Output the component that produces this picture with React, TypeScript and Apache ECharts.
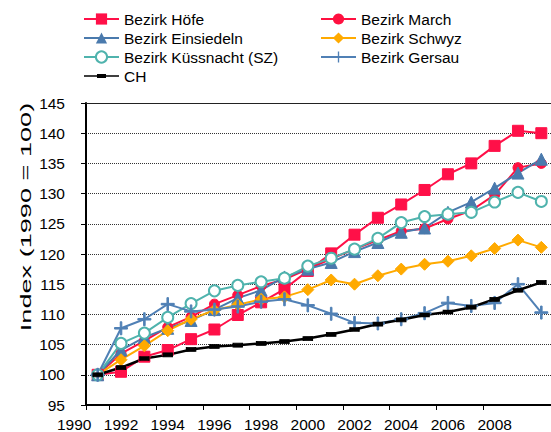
import React, { useEffect, useRef } from "react";
import * as echarts from "echarts";

const years = ["1991","1992","1993","1994","1995","1996","1997","1998","1999","2000","2001","2002","2003","2004","2005","2006","2007","2008","2009","2010"];
const firstTickLabel = "1990";
const yAxisTitle = "Index (1990 = 100)";

const hoefe = [100, 100.5, 103.0, 104.1, 105.9, 107.5, 109.9, 112.0, 114.2, 117.2, 120.1, 123.2, 126.0, 128.2, 130.6, 133.2, 135.0, 137.9, 140.4, 140.0];
const march = [100, 103.5, 105.6, 107.9, 109.6, 111.7, 113.2, 114.7, 115.8, 117.5, 119.2, 120.8, 122.3, 123.8, 124.2, 125.8, 127.2, 129.8, 134.3, 135.0];
const einsiedeln = [100, 104.1, 106.2, 107.7, 109.0, 110.8, 112.7, 114.0, 116.2, 117.5, 118.6, 120.4, 121.9, 123.6, 124.3, 126.9, 128.6, 130.9, 133.4, 135.7];
const schwyz = [100, 102.5, 104.8, 107.3, 109.2, 110.7, 111.6, 112.5, 112.9, 114.1, 115.7, 115.0, 116.4, 117.5, 118.3, 118.8, 119.7, 120.9, 122.3, 121.1];
const kuessnacht = [100, 105.2, 106.9, 109.5, 111.8, 113.9, 114.8, 115.4, 116.0, 118.0, 119.3, 120.8, 122.6, 125.2, 126.2, 126.6, 126.9, 128.6, 130.2, 128.7];
const gersau = [100, 107.7, 109.2, 111.7, 110.5, 110.8, 111.3, 112.1, 112.5, 111.5, 110.1, 108.6, 108.5, 109.2, 110.2, 111.9, 111.4, 111.9, 115.0, 110.3];
const ch = [100, 101.2, 102.7, 103.3, 104.2, 104.7, 104.9, 105.2, 105.5, 106.0, 106.7, 107.5, 108.4, 109.1, 109.9, 110.4, 111.2, 112.5, 114.0, 115.3];

const FONT = "'Liberation Sans', Arial, sans-serif";
const crossPath = "path://M4.4,0H5.6V4.4H10V5.6H5.6V10H4.4V5.6H0V4.4H4.4Z";
const chLegendIcon = "path://M0,1.2H35V2.8H0Z M13,0H22V4H13Z";

export default function App() {
  const ref = useRef<HTMLDivElement>(null);
  useEffect(() => {
    if (!ref.current) return;
    const chart = echarts.init(ref.current, undefined, { renderer: "svg" });
    const mk = (name: string, data: number[], color: string, symbol: string, symbolSize: any, width = 2, extra: any = {}) => ({
      name,
      type: "line",
      data,
      symbol,
      symbolSize,
      lineStyle: { color, width },
      itemStyle: { color, borderColor: color, ...(extra.itemStyle || {}) },
      emphasis: { disabled: true },
      xAxisIndex: 0,
      yAxisIndex: 0,
    });
    const legendCommon = {
      orient: "vertical",
      top: 11,
      padding: 0,
      itemWidth: 35,
      itemHeight: 14,
      itemGap: 3,
      textStyle: { fontFamily: FONT, fontSize: 15.5, color: "#000" },
      selectedMode: false,
    };
    chart.setOption({
      animation: false,
      backgroundColor: "#fff",
      textStyle: { fontFamily: FONT },
      legend: [
        {
          ...legendCommon,
          left: 83,
          data: ["Bezirk Höfe", "Bezirk Einsiedeln", "Bezirk Küssnacht (SZ)", { name: "CH", icon: chLegendIcon, itemStyle: { color: "#000" } }],
        },
        { ...legendCommon, left: 320, data: ["Bezirk March", "Bezirk Schwyz", "Bezirk Gersau"] },
      ],
      graphic: [
        {
          type: "text",
          x: 26,
          y: 217,
          rotation: Math.PI / 2,
          scaleX: 1.75,
          scaleY: 1,
          style: {
            text: yAxisTitle,
            font: "15.5px 'Liberation Sans', Arial, sans-serif",
            fontFamily: FONT,
            fontSize: 15.5,
            fill: "#000",
            align: "center",
            verticalAlign: "middle",
            textAlign: "center",
            textVerticalAlign: "middle",
          },
        },
      ],
      grid: { left: 86, top: 103, bottom: 27, right: -2, outerBoundsMode: "none" },
      xAxis: [
        {
          type: "category",
          data: years,
          boundaryGap: true,
          axisLine: { show: true, lineStyle: { color: "#000", width: 2 } },
          axisTick: { show: true, inside: false, length: 5, lineStyle: { color: "#000", width: 1 } },
          axisLabel: {
            interval: (index: number) => index === 0 || (index % 2 === 1 && index < 18),
            margin: 11,
            fontFamily: FONT,
            fontSize: 15.5,
            color: "#000",
            formatter: (value: string, index: number) => (index === 0 ? "{shift|" + firstTickLabel + "}" : value),
            rich: { shift: { fontFamily: FONT, fontSize: 15.5, color: "#000", padding: [0, 47, 0, 0] } },
          },
          splitLine: { show: false },
        },
        {
          type: "category",
          data: years,
          position: "top",
          axisLine: { show: true, lineStyle: { color: "#222", width: 1 } },
          axisTick: { show: false },
          axisLabel: { show: false },
          splitLine: { show: false },
        },
      ],
      yAxis: {
        type: "value",
        min: 95,
        max: 145,
        interval: 5,
        axisLine: { show: true, lineStyle: { color: "#000", width: 2 } },
        axisTick: { show: true, inside: false, length: 5, lineStyle: { color: "#000", width: 1 } },
        axisLabel: { margin: 21, fontFamily: FONT, fontSize: 15.5, color: "#000" },
        splitLine: { show: true, lineStyle: { color: "#333", width: 1, type: [1, 1] } },
      },
      series: [
        mk("Bezirk Höfe", hoefe, "#FF1048", "rect", 11),
        mk("Bezirk March", march, "#FF1040", "circle", 10),
        mk("Bezirk Einsiedeln", einsiedeln, "#4A7AAD", "triangle", 12),
        mk("Bezirk Schwyz", schwyz, "#FFAA00", "diamond", 12),
        mk("Bezirk Küssnacht (SZ)", kuessnacht, "#4FB3AD", "emptyCircle", 11, 2, { itemStyle: { borderWidth: 1.5 } }),
        mk("Bezirk Gersau", gersau, "#5080B5", crossPath, 13, 2),
        mk("CH", ch, "#000000", "rect", [9, 4], 2.5),
      ],
    });
    return () => chart.dispose();
  }, []);
  return <div ref={ref} style={{ position: "fixed", left: 0, top: 0, width: 551, height: 432 }} />;
}
